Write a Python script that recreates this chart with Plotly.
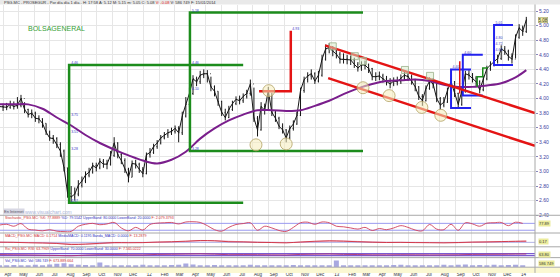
import pandas as pd
import plotly.graph_objects as go

# ---------------- data ----------------
week_start = "2011-03-25"          # weekly bars, PSG.MC (Prosegur)
close = [3.89, 3.88, 3.88, 3.92, 3.89, 3.91, 4.00, 3.85, 3.78, 3.80,
         3.73, 3.72, 3.66, 3.54, 3.46, 3.45, 3.37, 3.28, 3.05, 2.70,
         2.65, 2.69, 2.81, 2.87, 2.95, 2.99, 3.08, 3.05, 3.14, 3.10,
         3.10, 3.22, 3.39, 3.23, 3.15, 3.03, 2.92, 3.11, 3.10, 3.03,
         2.97, 3.23, 3.26, 3.34, 3.39, 3.46, 3.50, 3.53, 3.55, 3.59,
         3.53, 3.76, 3.92, 4.07, 4.27, 4.23, 4.32, 4.34, 4.34, 4.16,
         4.10, 3.96, 3.81, 3.74, 3.85, 3.93, 3.99, 3.97, 4.03, 4.07,
         4.20, 3.73, 3.57, 3.89, 3.84, 4.11, 3.81, 3.73, 3.62, 3.57,
         3.46, 3.59, 3.65, 3.77, 4.11, 4.26, 4.31, 4.34, 4.24, 4.32,
         4.54, 4.68, 4.70, 4.65, 4.61, 4.54, 4.54, 4.54, 4.53, 4.47,
         4.42, 4.46, 4.46, 4.41, 4.30, 4.30, 4.31, 4.27, 4.24, 4.20,
         4.24, 4.23, 4.28, 4.32, 4.30, 4.24, 4.16, 4.03, 3.97, 4.14,
         4.24, 4.20, 4.00, 3.91, 3.95, 4.11, 4.23, 4.07, 3.92, 4.10,
         4.34, 4.32, 4.28, 4.23, 4.12, 4.27, 4.41, 4.46, 4.51, 4.55,
         4.68, 4.65, 4.58, 4.54, 4.84, 4.97, 4.92, 5.08]
high = [3.95, 3.93, 3.94, 3.97, 3.96, 4.02, 4.05, 3.95, 3.86, 3.85,
        3.82, 3.77, 3.73, 3.66, 3.56, 3.50, 3.47, 3.40, 3.30, 3.05,
        2.80, 2.78, 2.88, 2.93, 3.00, 3.05, 3.12, 3.12, 3.18, 3.17,
        3.16, 3.28, 3.47, 3.40, 3.26, 3.18, 3.05, 3.15, 3.16, 3.12,
        3.06, 3.26, 3.32, 3.38, 3.43, 3.50, 3.54, 3.58, 3.60, 3.63,
        3.62, 3.82, 4.02, 4.15, 4.32, 4.30, 4.38, 4.40, 4.39, 4.30,
        4.18, 4.10, 3.97, 3.86, 3.90, 3.97, 4.03, 4.04, 4.07, 4.12,
        4.26, 4.15, 3.76, 3.95, 3.93, 4.16, 4.08, 3.84, 3.75, 3.66,
        3.58, 3.63, 3.70, 3.82, 4.15, 4.30, 4.36, 4.40, 4.36, 4.38,
        4.60, 4.74, 4.76, 4.72, 4.69, 4.64, 4.62, 4.60, 4.59, 4.56,
        4.50, 4.51, 4.52, 4.48, 4.42, 4.36, 4.37, 4.34, 4.31, 4.28,
        4.29, 4.30, 4.33, 4.37, 4.36, 4.33, 4.27, 4.17, 4.06, 4.18,
        4.29, 4.28, 4.22, 4.02, 4.02, 4.15, 4.28, 4.24, 4.08, 4.14,
        4.38, 4.39, 4.35, 4.31, 4.25, 4.31, 4.45, 4.51, 4.56, 4.60,
        4.73, 4.72, 4.67, 4.62, 4.88, 5.02, 5.00, 5.12]
low = [3.84, 3.83, 3.84, 3.86, 3.85, 3.86, 3.88, 3.80, 3.74, 3.73,
       3.68, 3.66, 3.60, 3.50, 3.42, 3.38, 3.32, 3.20, 3.00, 2.64,
       2.56, 2.60, 2.66, 2.78, 2.84, 2.92, 2.97, 3.00, 3.03, 3.05,
       3.03, 3.08, 3.20, 3.18, 3.10, 2.98, 2.85, 2.92, 3.04, 2.98,
       2.92, 2.96, 3.19, 3.24, 3.31, 3.37, 3.44, 3.46, 3.50, 3.52,
       3.40, 3.50, 3.74, 3.88, 4.05, 4.17, 4.20, 4.28, 4.22, 4.10,
       4.03, 3.90, 3.76, 3.70, 3.73, 3.83, 3.91, 3.92, 3.94, 4.00,
       4.04, 3.68, 3.48, 3.56, 3.78, 3.84, 3.76, 3.68, 3.58, 3.52,
       3.40, 3.44, 3.56, 3.64, 3.76, 4.08, 4.22, 4.26, 4.20, 4.22,
       4.30, 4.52, 4.62, 4.58, 4.55, 4.48, 4.48, 4.47, 4.46, 4.42,
       4.37, 4.38, 4.40, 4.35, 4.25, 4.24, 4.25, 4.22, 4.18, 4.14,
       4.17, 4.18, 4.20, 4.25, 4.24, 4.19, 4.10, 3.98, 3.90, 3.96,
       4.12, 4.14, 3.95, 3.85, 3.88, 3.94, 4.08, 4.02, 3.86, 3.90,
       4.08, 4.26, 4.22, 4.17, 4.07, 4.10, 4.25, 4.38, 4.44, 4.48,
       4.53, 4.60, 4.52, 4.48, 4.55, 4.82, 4.86, 4.90]
dates = pd.date_range(week_start, periods=len(close), freq="7D")
open_ = [close[0]] + close[:-1]     # each week opens at the previous close

# 200-session moving average, every 4th week + last
ma_dates = list(dates[::4]) + [dates[-1]]
ma200 = [3.92, 3.92, 3.92, 3.86, 3.74, 3.63, 3.50, 3.39, 3.30, 3.22,
         3.15, 3.11, 3.16, 3.27, 3.45, 3.59, 3.70, 3.78, 3.84, 3.84,
         3.83, 3.84, 3.90, 3.97, 4.06, 4.14, 4.20, 4.24, 4.25, 4.26,
         4.24, 4.19, 4.16, 4.16, 4.18, 4.21, 4.29, 4.39]

# indicators
stoch_dates = dates[::2]
stoch_k = [65, 72, 55, 78, 30, 22, 15, 25, 12, 8,
           10, 55, 72, 80, 68, 75, 88, 40, 15, 45,
           22, 70, 82, 85, 88, 75, 92, 94, 88, 60,
           25, 12, 45, 70, 78, 85, 20, 55, 40, 18,
           10, 45, 85, 90, 72, 92, 85, 55, 50, 40,
           30, 45, 18, 35, 25, 40, 60, 45, 22, 15,
           70, 30, 25, 72, 20, 85, 75, 55, 82, 85,
           88, 60, 90, 80]
stoch_bands = [80, 20]
macd_line = [0.02, 0.0, -0.05, -0.08, -0.14, -0.28, -0.22, -0.12, -0.02, -0.04,
             -0.03, 0.04, 0.08, 0.15, 0.24, 0.2, 0.08, 0.06, 0.0, -0.02,
             -0.06, 0.05, 0.14, 0.2, 0.15, 0.08, 0.02, -0.02, 0.0, -0.03,
             -0.04, -0.06, -0.02, 0.04, 0.06, 0.1, 0.14, 0.17]
macd_signal = [0.03, 0.01, -0.02, -0.06, -0.1, -0.2, -0.23, -0.17, -0.08, -0.04,
               -0.03, 0.0, 0.05, 0.1, 0.18, 0.21, 0.14, 0.08, 0.03, 0.0,
               -0.03, 0.0, 0.08, 0.16, 0.17, 0.12, 0.05, 0.01, 0.0, -0.01,
               -0.03, -0.04, -0.04, 0.0, 0.04, 0.07, 0.11, 0.12]
rsi = [52, 48, 45, 40, 35, 28, 42, 50, 52, 48,
       47, 55, 58, 62, 66, 60, 50, 52, 50, 47,
       45, 55, 60, 63, 56, 53, 48, 47, 50, 48,
       46, 47, 49, 55, 57, 58, 62, 64]
rsi_bands = [70, 30]
volume_m = [1.2, 1.0, 1.4, 1.1, 1.3, 1.6, 1.2, 1.8, 2.2, 2.6,
            2.0, 1.5, 1.4, 1.3, 3.2, 1.2, 1.1, 1.0, 1.3, 1.2,
            1.5, 1.1, 1.0, 1.2, 1.4, 1.6, 2.4, 1.8, 1.3, 1.2,
            1.4, 1.1, 1.0, 1.3, 1.2, 1.5, 1.1, 1.2, 1.3, 1.0,
            1.2, 1.4, 1.1, 1.0, 1.3, 1.2, 1.3, 4.5, 1.1, 1.0,
            1.2, 1.3, 1.1, 1.2, 1.0, 1.4, 1.6, 1.2, 1.3, 1.1,
            1.2, 1.0, 1.5, 1.3, 1.6, 1.8, 1.2, 1.4, 1.3, 1.5,
            1.2, 1.4, 1.6, 1.3]

# drawings on the chart (date_start, date_end, top, bottom)
green_brackets = [("2011-08-08", "2012-07-13", 4.46, 2.57),
                  ("2012-03-31", "2013-03-04", 5.18, 3.28)]
blue_brackets = [("2013-08-23", "2013-10-01", 4.40, 3.87),
                 ("2013-09-15", "2013-10-24", 4.60, 4.04),
                 ("2013-11-15", "2013-12-22", 5.01, 4.46)]
green_step_x = ["2013-10-13", "2013-10-13", "2013-10-24", "2013-10-24", "2013-11-03"]
green_step_y = [4.16, 4.30, 4.30, 4.42, 4.42]
red_channel = [("2012-12-20", 4.73, "2014-02-03", 3.80),
               ("2012-12-26", 4.28, "2014-02-03", 3.35)]
red_arrow_x = ["2012-08-13", "2012-10-14", "2012-10-14"]
red_arrow_y = [4.10, 4.10, 4.93]
red_tick_x = ["2013-09-09", "2013-09-09"]
red_tick_y = [4.07, 4.51]
circle_dates = ["2012-08-07", "2012-10-05", "2012-09-01", "2013-03-04",
                "2013-04-24", "2013-06-27", "2013-08-03"]
circle_prices = [3.365, 3.378, 4.108, 4.148, 4.04, 3.878, 3.77]
box_dates = ["2013-01-04", "2013-02-16", "2013-03-04", "2013-05-25", "2013-07-13"]
box_prices = [4.716, 4.581, 4.514, 4.392, 4.311]
level_labels = [("2011-08-12", 4.46, "4.46"), ("2011-08-12", 3.75, "3.75"),
                ("2011-08-12", 3.51, "3.51"), ("2011-08-12", 3.28, "3.28"),
                ("2011-08-12", 2.57, "2.57"), ("2012-04-04", 5.18, "5.18"),
                ("2012-04-04", 4.46, "4.46"), ("2012-04-04", 4.10, "4.10"),
                ("2012-04-04", 3.28, "3.28"), ("2012-10-17", 4.93, "4.93"),
                ("2013-08-26", 4.40, "4.40"), ("2013-09-18", 4.60, "4.60"),
                ("2013-11-18", 5.01, "5.01"), ("2013-11-18", 4.80, "4.80"),
                ("2013-11-18", 4.72, "4.72"), ("2013-11-18", 4.64, "4.64")]

month_ticks = pd.date_range("2011-04-01", "2014-01-01", freq="MS")
month_labels = [("'" + d.strftime("%y")) if d.month == 1 else d.strftime("%b")
                for d in month_ticks]

X0, X1 = "2011-03-26", "2014-02-03"

# ---------------- figure ----------------
fig = go.Figure()
GREEN, RED, BLUE, PURPLE = "#1c8c1c", "#e41414", "#2222ee", "#7a1e8c"

fig.add_trace(go.Ohlc(x=dates, open=open_, high=high, low=low, close=close,
                      increasing=dict(line=dict(color="#161616", width=1)),
                      decreasing=dict(line=dict(color="#161616", width=1)),
                      tickwidth=0.2, yaxis="y"))
fig.add_trace(go.Scatter(x=dates, y=close, mode="lines",
                         line=dict(color="#161616", width=1), yaxis="y"))
fig.add_trace(go.Scatter(x=ma_dates, y=ma200, mode="lines",
                         line=dict(color=PURPLE, width=2, shape="spline"), yaxis="y"))

for d0, d1, top, bot in green_brackets:
    fig.add_trace(go.Scatter(x=[d1, d0, d0, d1], y=[top, top, bot, bot], mode="lines",
                             line=dict(color=GREEN, width=2.5), yaxis="y"))
for d0, d1, top, bot in blue_brackets:
    fig.add_trace(go.Scatter(x=[d1, d0, d0, d1], y=[top, top, bot, bot], mode="lines",
                             line=dict(color=BLUE, width=2), yaxis="y"))
fig.add_trace(go.Scatter(x=green_step_x, y=green_step_y, mode="lines",
                         line=dict(color=GREEN, width=1.5), yaxis="y"))
for d0, p0, d1, p1 in red_channel:
    fig.add_trace(go.Scatter(x=[d0, d1], y=[p0, p1], mode="lines",
                             line=dict(color=RED, width=2.5), yaxis="y"))
fig.add_trace(go.Scatter(x=red_arrow_x, y=red_arrow_y, mode="lines",
                         line=dict(color=RED, width=2.5), yaxis="y"))
fig.add_trace(go.Scatter(x=red_tick_x, y=red_tick_y, mode="lines",
                         line=dict(color=RED, width=1.5), yaxis="y"))
fig.add_trace(go.Scatter(x=circle_dates, y=circle_prices, mode="markers",
                         marker=dict(symbol="circle", size=12, color="rgba(245,236,185,0.55)",
                                     line=dict(color="#b3a264", width=0.8)), yaxis="y"))
fig.add_trace(go.Scatter(x=box_dates, y=box_prices, mode="markers",
                         marker=dict(symbol="square", size=7, color="rgba(215,236,200,0.5)",
                                     line=dict(color="#9ab08a", width=0.8)), yaxis="y"))
fig.add_trace(go.Scatter(x=[d for d, _, _ in level_labels], y=[p for _, p, _ in level_labels],
                         text=[t for _, _, t in level_labels], mode="text",
                         textposition="top right",
                         textfont=dict(size=3.5, color="#3a3ac8"), yaxis="y"))

# stochastic
for b in stoch_bands:
    fig.add_trace(go.Scatter(x=[X0, X1], y=[b, b], mode="lines",
                             line=dict(color="#9a9af0", width=1), yaxis="y2"))
fig.add_trace(go.Scatter(x=stoch_dates, y=stoch_k, mode="lines",
                         line=dict(color="#d0405a", width=0.9, shape="spline"), yaxis="y2"))
# macd
fig.add_trace(go.Scatter(x=[X0, X1], y=[0, 0], mode="lines",
                         line=dict(color="#a0a0e0", width=0.8), yaxis="y3"))
fig.add_trace(go.Scatter(x=ma_dates, y=macd_signal, mode="lines",
                         line=dict(color="#e08fb0", width=0.9, shape="spline"), yaxis="y3"))
fig.add_trace(go.Scatter(x=ma_dates, y=macd_line, mode="lines",
                         line=dict(color="#d03040", width=0.9, shape="spline"), yaxis="y3"))
# rsi
for b in rsi_bands:
    fig.add_trace(go.Scatter(x=[X0, X1], y=[b, b], mode="lines",
                             line=dict(color="#7a5ad0", width=1.2), yaxis="y4"))
fig.add_trace(go.Scatter(x=ma_dates, y=rsi, mode="lines",
                         line=dict(color="#b03070", width=0.9, shape="spline"), yaxis="y4"))
# volume
fig.add_trace(go.Bar(x=stoch_dates, y=volume_m, marker=dict(color="#a8a8e0", line=dict(width=0)),
                     yaxis="y5"))

H = 271.0


def f(px):
    return (H - px) / H


XR = 560 / 535.0
axis_font = dict(family="Liberation Sans", size=5, color="#3c3ca0")
hidden = dict(anchor="x", showticklabels=False, showgrid=False, zeroline=False, fixedrange=True)

fig.update_layout(
    width=560, height=277, margin=dict(l=0, r=25, t=0, b=6, pad=0),
    paper_bgcolor="white", plot_bgcolor="white", showlegend=False, bargap=0.3,
    font=dict(family="Liberation Sans"),
    xaxis=dict(type="date", range=[X0, X1], anchor="y5", tickvals=month_ticks,
               ticktext=month_labels, ticks="outside", ticklen=3, tickcolor="#999999",
               tickfont=dict(family="Liberation Sans", size=4.5, color="#333333"),
               ticklabelshift=5, showgrid=True, gridcolor="#e6e6e6", gridwidth=1,
               zeroline=False, showline=False, rangeslider=dict(visible=False)),
    yaxis=dict(domain=[f(219), f(5)], range=[2.392, 5.284], side="right", anchor="x",
               tick0=2.4, dtick=0.2, tickformat=".2f", ticks="outside", ticklen=2,
               tickcolor="#8888bb", tickfont=axis_font, showgrid=True,
               gridcolor="#e6e6e6", zeroline=False),
    yaxis2=dict(domain=[f(237), f(219)], range=[-8.3, 146], **hidden),
    yaxis3=dict(domain=[f(251), f(237)], range=[-0.625, 1.125], **hidden),
    yaxis4=dict(domain=[f(262), f(251)], range=[-20, 200], **hidden),
    yaxis5=dict(domain=[0, f(262)], range=[0, 6.2], **hidden),
)

shapes = [
    dict(type="rect", xref="paper", yref="paper", x0=0, x1=XR, y0=f(4.5), y1=1,
         fillcolor="#e9e9e9", line=dict(width=0), layer="above"),
    dict(type="rect", xref="paper", yref="paper", x0=0, x1=XR, y0=f(271.5), y1=f(277),
         fillcolor="#fbf8d2", line=dict(width=0)),
    dict(type="line", xref="paper", yref="paper", x0=1, x1=1, y0=f(277), y1=f(4.5),
         line=dict(color="#a8a8a8", width=1)),
]
for px in [218.5, 236.5, 250.5, 261.5, 271.2]:
    shapes.append(dict(type="line", xref="paper", yref="paper", x0=0, x1=XR,
                       y0=f(px), y1=f(px), line=dict(color="#a8a8a8", width=1)))
fig.update_layout(shapes=shapes)

tiny = dict(family="Liberation Sans", size=4, color="#333333")
ann = [
    dict(text='PSG.MC - PROSEGUR - Por día día 1 día - H: 17:58 A: 5.12 M: 5.15 m: 5.05 C: 5.08 '
              '<span style="color:#e02020">V: -0.08</span> V: 586 749 F: 15/01/2014',
         xref="paper", yref="paper", x=0.004, y=f(2.3), xanchor="left", yanchor="middle",
         showarrow=False, font=tiny),
    dict(text="BOLSAGENERAL", xref="paper", yref="paper", x=56 / 535, y=f(29),
         xanchor="center", yanchor="middle", showarrow=False,
         font=dict(family="Liberation Sans", size=7, color="#34a034")),
    dict(text="En Internet", xref="paper", yref="paper", x=3 / 535, y=f(215),
         xanchor="left", yanchor="middle", showarrow=False, bgcolor="#d8d8e4",
         borderpad=0, font=dict(family="Liberation Sans", size=4, color="#555566")),
    dict(text="www.visualchart.com", xref="paper", yref="paper", x=23 / 535, y=f(215),
         xanchor="left", yanchor="middle", showarrow=False,
         font=dict(family="Liberation Sans", size=5, color="#aab4d8")),
    dict(text='<span style="color:#d03030">Stochastic_PSG.MC: %K: 77.8889</span> '
              '<span style="color:#3030c0">%D: 79.5542 UpperBand: 80.0000 LowerBand: 20.0000</span> '
              '<span style="color:#d03030">F: 2.079.3793</span>',
         xref="paper", yref="paper", x=3 / 535, y=f(221.5), xanchor="left", yanchor="middle",
         showarrow=False, font=dict(family="Liberation Sans", size=3.6)),
    dict(text='<span style="color:#d03030">MACD_PSG.MC: MACD: 0.1714</span> '
              '<span style="color:#3030c0">MediaMACD: 0.1195 Banda_MACD: 0.0000</span> '
              '<span style="color:#d03030">F: 13.2879</span>',
         xref="paper", yref="paper", x=3 / 535, y=f(239.3), xanchor="left", yanchor="middle",
         showarrow=False, font=dict(family="Liberation Sans", size=3.6)),
    dict(text='<span style="color:#d03030">Rsi_PSG.MC: RSI: 63.7969</span> '
              '<span style="color:#3030c0">UpperBand: 70.0000 LowerBand: 30.0000</span> '
              '<span style="color:#d03030">F: 7.565.0222</span>',
         xref="paper", yref="paper", x=3 / 535, y=f(253), xanchor="left", yanchor="middle",
         showarrow=False, font=dict(family="Liberation Sans", size=3.6)),
    dict(text='<span style="color:#3030c0">Vol_PSG.MC: Vol: 586 749</span> '
              '<span style="color:#d03030">F: 673.889.664</span>',
         xref="paper", yref="paper", x=3 / 535, y=f(264.5), xanchor="left", yanchor="middle",
         showarrow=False, font=dict(family="Liberation Sans", size=3.6)),
    dict(text="5.08", xref="paper", yref="y", x=1.006, y=5.08, xanchor="left",
         yanchor="middle", showarrow=False, bgcolor="#ecec9c", bordercolor="#999966",
         borderwidth=0.5, borderpad=0, font=dict(family="Liberation Sans", size=4.5, color="#333")),
    dict(text="77.89", xref="paper", yref="y2", x=1.006, y=77.89, xanchor="left",
         yanchor="middle", showarrow=False, bgcolor="#ecec9c", borderpad=0,
         font=dict(family="Liberation Sans", size=4, color="#333")),
    dict(text="0.17", xref="paper", yref="y3", x=1.006, y=0.17, xanchor="left",
         yanchor="middle", showarrow=False, bgcolor="#ecec9c", borderpad=0,
         font=dict(family="Liberation Sans", size=4, color="#333")),
    dict(text="63.80", xref="paper", yref="y4", x=1.006, y=60, xanchor="left",
         yanchor="middle", showarrow=False, bgcolor="#ecec9c", borderpad=0,
         font=dict(family="Liberation Sans", size=4, color="#333")),
    dict(text="586 749", xref="paper", yref="y5", x=1.006, y=2.5, xanchor="left",
         yanchor="middle", showarrow=False, bgcolor="#ecec9c", borderpad=0,
         font=dict(family="Liberation Sans", size=4, color="#333")),
]
fig.update_layout(annotations=ann)
fig.update_traces(hoverinfo="skip")

fig.write_html("out.html")
